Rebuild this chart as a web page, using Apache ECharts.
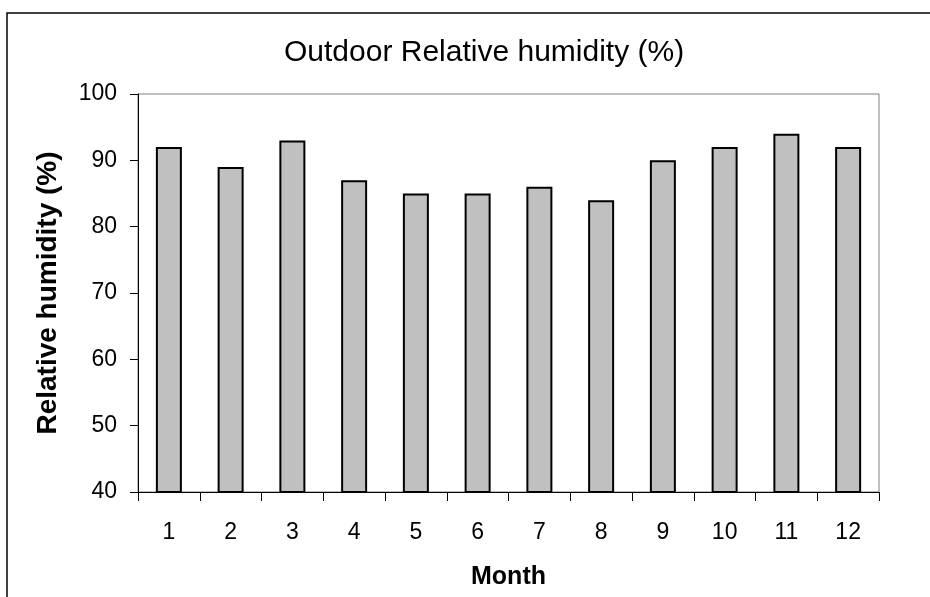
<!DOCTYPE html>
<html>
<head>
<meta charset="utf-8">
<script src="https://cdn.jsdelivr.net/npm/echarts@6/dist/echarts.min.js"></script>
<style>
  html, body { margin: 0; padding: 0; background: #fff; }
  #chart { width: 930px; height: 597px; }
</style>
</head>
<body>
<div id="chart"></div>
<script>
  // monthly values
  var months = ['1', '2', '3', '4', '5', '6', '7', '8', '9', '10', '11', '12'];
  var humidity = [92, 89, 93, 87, 85, 85, 86, 84, 90, 92, 94, 92];
  var yTicks = [40, 50, 60, 70, 80, 90, 100];

  var font = "'Liberation Sans', Arial, sans-serif";
  var chart = echarts.init(document.getElementById('chart'));

  var option = {
    animation: false,
    backgroundColor: '#fff',
    title: {
      text: 'Outdoor Relative humidity (%)',
      left: 279,
      top: 33,
      textStyle: { fontFamily: font, fontSize: 30, fontWeight: 'normal', color: '#000' }
    },
    graphic: [
      {
        type: 'rect',
        shape: { x: 7, y: 13, width: 1000, height: 700 },
        style: { fill: 'none', stroke: '#000', lineWidth: 1.5 },
        silent: true
      }
    ],
    grid: {
      left: 138, right: 51, top: 94, bottom: 105,
      show: true, borderColor: '#808080', borderWidth: 1
    },
    xAxis: {
      type: 'category',
      data: months,
      name: 'Month',
      nameLocation: 'middle',
      nameGap: 73,
      nameTextStyle: { fontFamily: font, fontSize: 25, fontWeight: 'bold', color: '#000' },
      axisLine: { lineStyle: { color: '#000', width: 1 } },
      axisTick: { show: true, length: 9, lineStyle: { color: '#000' } },
      axisLabel: { fontFamily: font, fontSize: 23, color: '#000', margin: 29 },
      splitLine: { show: false }
    },
    yAxis: {
      type: 'value',
      min: yTicks[0],
      max: yTicks[yTicks.length - 1],
      interval: 10,
      name: 'Relative humidity (%)',
      nameLocation: 'middle',
      nameGap: 76,
      nameTextStyle: { fontFamily: font, fontSize: 28, fontWeight: 'bold', color: '#000' },
      axisLine: { show: true, lineStyle: { color: '#000', width: 1 } },
      axisTick: { show: true, length: 8, lineStyle: { color: '#000' } },
      axisLabel: { fontFamily: font, fontSize: 23, color: '#000', margin: 21 },
      splitLine: { show: false }
    },
    series: [
      {
        type: 'bar',
        data: humidity,
        barWidth: 26,
        itemStyle: { color: '#c0c0c0', borderColor: '#000', borderWidth: 2 }
      }
    ]
  };

  chart.setOption(option);
</script>
</body>
</html>
